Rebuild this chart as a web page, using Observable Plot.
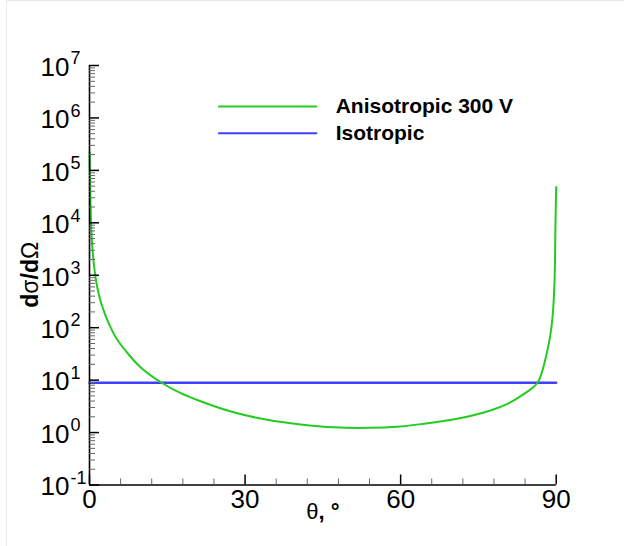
<!DOCTYPE html>
<html><head><meta charset="utf-8">
<script src="https://cdn.jsdelivr.net/npm/d3@7"></script>
<script src="https://cdn.jsdelivr.net/npm/@observablehq/plot@0.6"></script>
<style>
html,body{margin:0;padding:0;background:#fff;}
#wrap{position:relative;width:624px;height:546px;}
#wrap:after{content:"";position:absolute;left:6px;top:0;right:0;bottom:0;border-top:1px solid #e8e8e8;border-left:1px solid #e8e8e8;pointer-events:none;}
svg{display:block;font-family:"Liberation Sans",Arial,Helvetica,sans-serif;}
</style></head><body><div id="wrap"></div>
<script>
// ---- data ----
const anisoTheta = [0.04, 0.08, 0.3, 0.6, 1.1, 1.5, 2.1, 3.0, 4.0, 5.3, 7.3, 10.0, 13.9, 17.5, 21.4, 27.8, 34.3, 40.7, 47.1, 53.6, 60.0, 64.5, 70.9, 77.3, 80.6, 83.8, 86.4, 88.0, 88.9, 89.4, 89.7, 89.87, 90.0];
const anisoValue = [2.2e5, 1e5, 1e4, 2900, 1000, 590, 330, 180, 105, 60, 33, 17, 8.9, 5.7, 3.96, 2.44, 1.75, 1.43, 1.26, 1.23, 1.31, 1.47, 1.83, 2.64, 3.53, 5.48, 8.9, 27.4, 76, 213, 920, 1.1e4, 4.8e4];
const isoTheta = [0, 90];
const isoValue = [8.9, 8.9];
const seriesNames = ["Anisotropic 300 V", "Isotropic"];
const seriesColors = ["#22cc22", "#4040ff"];
const xMajor = [0, 30, 60, 90];
const xMinor = [6, 12, 18, 24, 36, 42, 48, 54, 66, 72, 78, 84];
const yExponents = [-1, 0, 1, 2, 3, 4, 5, 6, 7];
const xTitle = "θ, °";
const yTitleParts = [["d", "bold"], ["σ", "normal"], ["/", "bold"], ["d", "bold"], ["Ω", "normal"]];
// legend placement (data coordinates)
const legendX = [24.9, 44.0];
const legendY = [1.65e6, 5.1e5];

// ---- derived tables ----
const aniso = anisoTheta.map((t, i) => ({theta: t, value: anisoValue[i]}));
const iso = isoTheta.map((t, i) => ({theta: t, value: isoValue[i]}));
const yMajor = yExponents.map(e => Math.pow(10, e));
const yMinor = [];
for (const e of yExponents.slice(0, -1)) for (let m = 2; m <= 9; m++) yMinor.push(m * Math.pow(10, e));
const legendRows = seriesNames.map((n, i) => ({name: n, color: seriesColors[i], y: legendY[i]}));

const chart = Plot.plot({
  width: 624, height: 546,
  marginLeft: 89, marginRight: 68.3, marginTop: 65, marginBottom: 61.5,
  x: {domain: [0, 90], axis: null},
  y: {type: "log", domain: [0.1, 1e7], axis: null},
  marks: [
    // curves
    Plot.line(iso, {x: "theta", y: "value", stroke: seriesColors[1], strokeWidth: 2.4}),
    Plot.line(aniso, {x: "theta", y: "value", stroke: seriesColors[0], strokeWidth: 2, curve: "catmull-rom"}),
    // axis lines
    Plot.ruleX([0], {stroke: "#000", strokeWidth: 1.6}),
    Plot.ruleY([0.1], {stroke: "#000", strokeWidth: 1.6}),
    // y ticks (inward)
    Plot.ruleY(yMinor, {y: d => d, x1: 0, x2: 0, insetRight: -6, stroke: "#666", strokeWidth: 1}),
    Plot.ruleY(yMajor, {y: d => d, x1: 0, x2: 0, insetRight: -10, stroke: "#000", strokeWidth: 1.5}),
    // x ticks (inward)
    Plot.ruleX(xMinor, {x: d => d, y1: 0.1, y2: 0.1, insetTop: -6, stroke: "#666", strokeWidth: 1}),
    Plot.ruleX(xMajor, {x: d => d, y1: 0.1, y2: 0.1, insetTop: -10, stroke: "#000", strokeWidth: 1.5}),
    // y tick labels 10^n
    Plot.text(yMajor, {x: 0, y: d => d, text: () => "10", textAnchor: "end", lineAnchor: "middle", dx: -20, dy: 2, fontSize: 26, fill: "#000"}),
    Plot.text(yMajor, {x: 0, y: d => d, text: d => String(Math.round(Math.log10(d))), textAnchor: "start", lineAnchor: "middle", dx: -19, dy: -7, fontSize: 18, fill: "#000"}),
    // x tick labels
    Plot.text(xMajor, {x: d => d, y: 0.1, text: d => String(d), lineAnchor: "top", dy: 5, fontSize: 26, fill: "#000"}),
    // x axis title
    Plot.text([xTitle], {frameAnchor: "bottom", text: d => d, textAnchor: "middle", lineAnchor: "top", dy: 18, fontSize: 22, fill: "#000"}),
    // legend
    Plot.ruleY(legendRows, {y: "y", x1: legendX[0], x2: legendX[1], stroke: "color", strokeWidth: 2}),
    Plot.text(legendRows, {x: legendX[1], y: "y", text: "name", textAnchor: "start", lineAnchor: "middle", dx: 18, fontSize: 21, fontWeight: "bold", fill: "#000"})
  ]
});
document.getElementById("wrap").appendChild(chart);

// x title: regular θ, bold ", °"
d3.select(chart).selectAll("text").each(function() {
  if (this.textContent === xTitle) {
    const sel = d3.select(this); sel.text(null).attr("text-anchor", "middle");
    [["θ", "normal"], [", °", "bold"]].forEach(([s, w]) => sel.append("tspan").attr("font-weight", w).text(s));
  }
});

// y title, centred on the frame using the plot's own scales and measured length
const yr = chart.scale("y").range, xr = chart.scale("x").range;
const cy = (yr[0] + yr[1]) / 2;
const yt = d3.select(chart).append("text")
  .attr("text-anchor", "start").attr("font-size", 23).attr("fill", "#000");
yTitleParts.forEach(([s, w]) => yt.append("tspan").attr("font-weight", w).text(s));
const len = yt.node().getComputedTextLength();
yt.attr("transform", `translate(${xr[0] - 51.5},${cy + len / 2}) rotate(-90)`);
</script>
</body></html>
